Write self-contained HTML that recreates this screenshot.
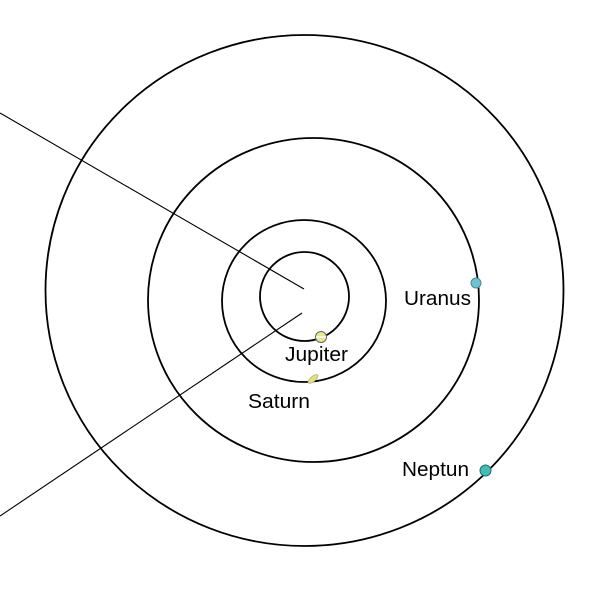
<!DOCTYPE html>
<html><head><style>html,body{margin:0;padding:0;background:#fff;}svg{display:block}</style></head>
<body>
<svg width="600" height="593" viewBox="0 0 600 593" xmlns="http://www.w3.org/2000/svg">
<rect width="600" height="593" fill="#fff"/>
<g fill="none" stroke="#000" stroke-width="1.8">
<ellipse cx="304.5" cy="290.5" rx="259" ry="255.5"/>
<ellipse cx="313.5" cy="300" rx="165.5" ry="162"/>
<ellipse cx="304" cy="301" rx="82" ry="81"/>
<ellipse cx="304.5" cy="296.5" rx="44.5" ry="44.5"/>
</g>
<g stroke="#000" stroke-width="1.1">
<line x1="0" y1="113" x2="304" y2="289"/>
<line x1="0" y1="516" x2="302" y2="313"/>
</g>
<circle cx="321" cy="337" r="5.5" fill="#e8e890" stroke="#666" stroke-width="1"/>
<line x1="316" y1="337" x2="326" y2="337" stroke="#fff" stroke-width="1.5"/>
<ellipse cx="313" cy="379" rx="6" ry="2.5" fill="#e8e070" stroke="#aa9" stroke-width="0.8" transform="rotate(-40 313 379)"/>
<circle cx="476" cy="283" r="5" fill="#6cc4d0" stroke="#4a8a95" stroke-width="1"/>
<circle cx="485.5" cy="470.5" r="5.5" fill="#3cc0b0" stroke="#2a6a80" stroke-width="1"/>
<g font-family="Liberation Sans, Arial, sans-serif" font-size="20.5" fill="#000">
<text x="404" y="305" textLength="67" lengthAdjust="spacingAndGlyphs">Uranus</text>
<text x="285" y="361" textLength="63" lengthAdjust="spacingAndGlyphs">Jupiter</text>
<text x="248" y="408" textLength="62" lengthAdjust="spacingAndGlyphs">Saturn</text>
<text x="402" y="476" textLength="67" lengthAdjust="spacingAndGlyphs">Neptun</text>
</g>
</svg>
</body></html>
